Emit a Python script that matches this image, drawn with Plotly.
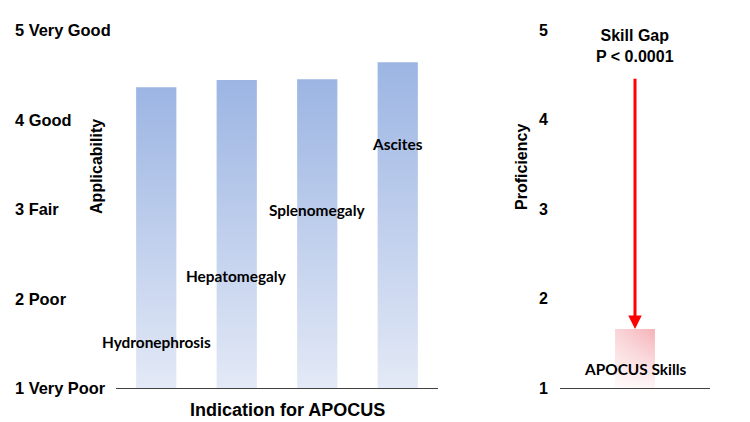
import numpy as np
import plotly.graph_objects as go

# ---- data ----
indications = ["Hydronephrosis", "Hepatomegaly", "Splenomegaly", "Ascites"]
applicability = [4.36, 4.44, 4.45, 4.64]
label_heights = [1.51, 2.25, 2.99, 3.73]
skill_category = ["APOCUS Skills"]
skill_values = [1.66]
skill_label_height = 1.21
left_tick_vals = [1, 2, 3, 4, 5]
left_tick_text = ["1 Very Poor", "2 Poor", "3 Fair", "4 Good", "5 Very Good"]
right_tick_vals = [1, 2, 3, 4, 5]
gap_text = "Skill Gap<br>P &lt; 0.0001"

BASE = 1.0
AX_FONT = dict(family="Liberation Sans, Arial", size=16.4, color="#000000")
LBL_FONT = dict(family="Lato, Open Sans", size=15.4, color="#000000")

fig = go.Figure()

half = 0.25
for i, (name, v) in enumerate(zip(indications, applicability)):
    fig.add_trace(go.Scatter(
        x=[i - half, i - half, i + half, i + half, i - half],
        y=[BASE, v, v, BASE, BASE],
        mode="lines", fill="toself", line=dict(width=0),
        fillgradient=dict(type="vertical", start=BASE, stop=v,
                          colorscale=[[0, "#e3e9f6"], [1, "#9cb5e3"]]),
        hoverinfo="skip", showlegend=False, xaxis="x", yaxis="y",
    ))

hw = 0.133
for i, v in enumerate(skill_values):
    fig.add_trace(go.Scatter(
        x=[i - hw, i - hw, i + hw, i + hw, i - hw],
        y=[BASE, v, v, BASE, BASE],
        mode="lines", fill="toself", line=dict(width=0),
        fillgradient=dict(type="vertical", start=BASE, stop=v,
                          colorscale=[[0, "#fef6f7"], [1, "#f5b2b8"]]),
        hoverinfo="skip", showlegend=False, xaxis="x2", yaxis="y2",
    ))
    fig.add_trace(go.Scatter(
        x=[i - hw, i - hw, i + hw, i + hw, i - hw],
        y=[BASE, v, v, BASE, BASE],
        mode="lines", fill="toself", line=dict(width=0),
        fillgradient=dict(type="horizontal", start=i - hw, stop=i + hw,
                          colorscale=[[0, "rgba(255,255,255,0.45)"],
                                      [1, "rgba(255,255,255,0)"]]),
        hoverinfo="skip", showlegend=False, xaxis="x2", yaxis="y2",
    ))

annotations = []
for t, v in zip(left_tick_text, left_tick_vals):
    annotations.append(dict(text=f"<b>{t}</b>", xref="paper", x=13 / 750, xanchor="left",
                            yref="y", y=v, yanchor="middle", showarrow=False, font=AX_FONT))
for i, (name, h) in enumerate(zip(indications, label_heights)):
    annotations.append(dict(text=f"<b>{name}</b>", xref="x", x=i, yref="y", y=h,
                            xanchor="center", showarrow=False, font=LBL_FONT))
annotations.append(dict(text=f"<b>{skill_category[0]}</b>", xref="x2", x=0, yref="y2",
                        y=skill_label_height, xanchor="center", showarrow=False, font=LBL_FONT))
annotations.append(dict(text="<b>Applicability</b>", textangle=-90, xref="paper", x=97 / 750,
                        xanchor="center", yref="y", y=3.47, showarrow=False,
                        font=dict(family="Liberation Sans, Arial", size=16, color="#000000")))
annotations.append(dict(text="<b>Proficiency</b>", textangle=-90, xref="paper", x=522 / 750,
                        xanchor="center", yref="y2", y=3.47, showarrow=False,
                        font=dict(family="Liberation Sans, Arial", size=16, color="#000000")))
annotations.append(dict(text="<b>Indication for APOCUS</b>", xref="paper", x=287 / 750,
                        xanchor="center", yref="paper", y=-0.061, yanchor="middle",
                        showarrow=False,
                        font=dict(family="Liberation Sans, Arial", size=18, color="#000000")))
annotations.append(dict(text=f"<b>{gap_text}</b>", xref="x2", x=0, yref="y2", y=4.82,
                        xanchor="center", showarrow=False,
                        font=dict(family="Liberation Sans, Arial", size=16, color="#000000")))
annotations.append(dict(text="", xref="x2", x=0, yref="y2", y=skill_values[0],
                        axref="x2", ax=0, ayref="y2", ay=float(np.mean(applicability)),
                        showarrow=True, arrowcolor="#ff0000", arrowwidth=3,
                        arrowhead=2, arrowsize=0.9))

fig.update_layout(
    width=750, height=422,
    margin=dict(l=0, r=0, t=30, b=34),
    paper_bgcolor="white", plot_bgcolor="white",
    showlegend=False,
    xaxis=dict(domain=[116 / 750, 438 / 750], range=[-0.5, 3.5], showticklabels=False,
               showgrid=False, zeroline=False, showline=True, linecolor="#404040",
               linewidth=1, ticks=""),
    yaxis=dict(range=[1, 5], showticklabels=False, showgrid=False, zeroline=False,
               showline=False, ticks=""),
    xaxis2=dict(domain=[560 / 750, 710 / 750], range=[-0.5, 0.5], showticklabels=False,
                showgrid=False, zeroline=False, showline=True, linecolor="#404040",
                linewidth=1, ticks="", anchor="y2"),
    yaxis2=dict(range=[1, 5], tickvals=right_tick_vals,
                ticktext=[f"<b>{v}</b>" for v in right_tick_vals],
                tickfont=dict(family="Liberation Sans, Arial", size=16, color="#000000"),
                showgrid=False, zeroline=False, showline=False,
                ticks="outside", ticklen=8, tickcolor="rgba(0,0,0,0)",
                anchor="x2"),
    annotations=annotations,
)

fig.write_html("out.html", config={"displayModeBar": False},
               post_script="document.body.style.margin='0';document.body.style.overflow='hidden';")
